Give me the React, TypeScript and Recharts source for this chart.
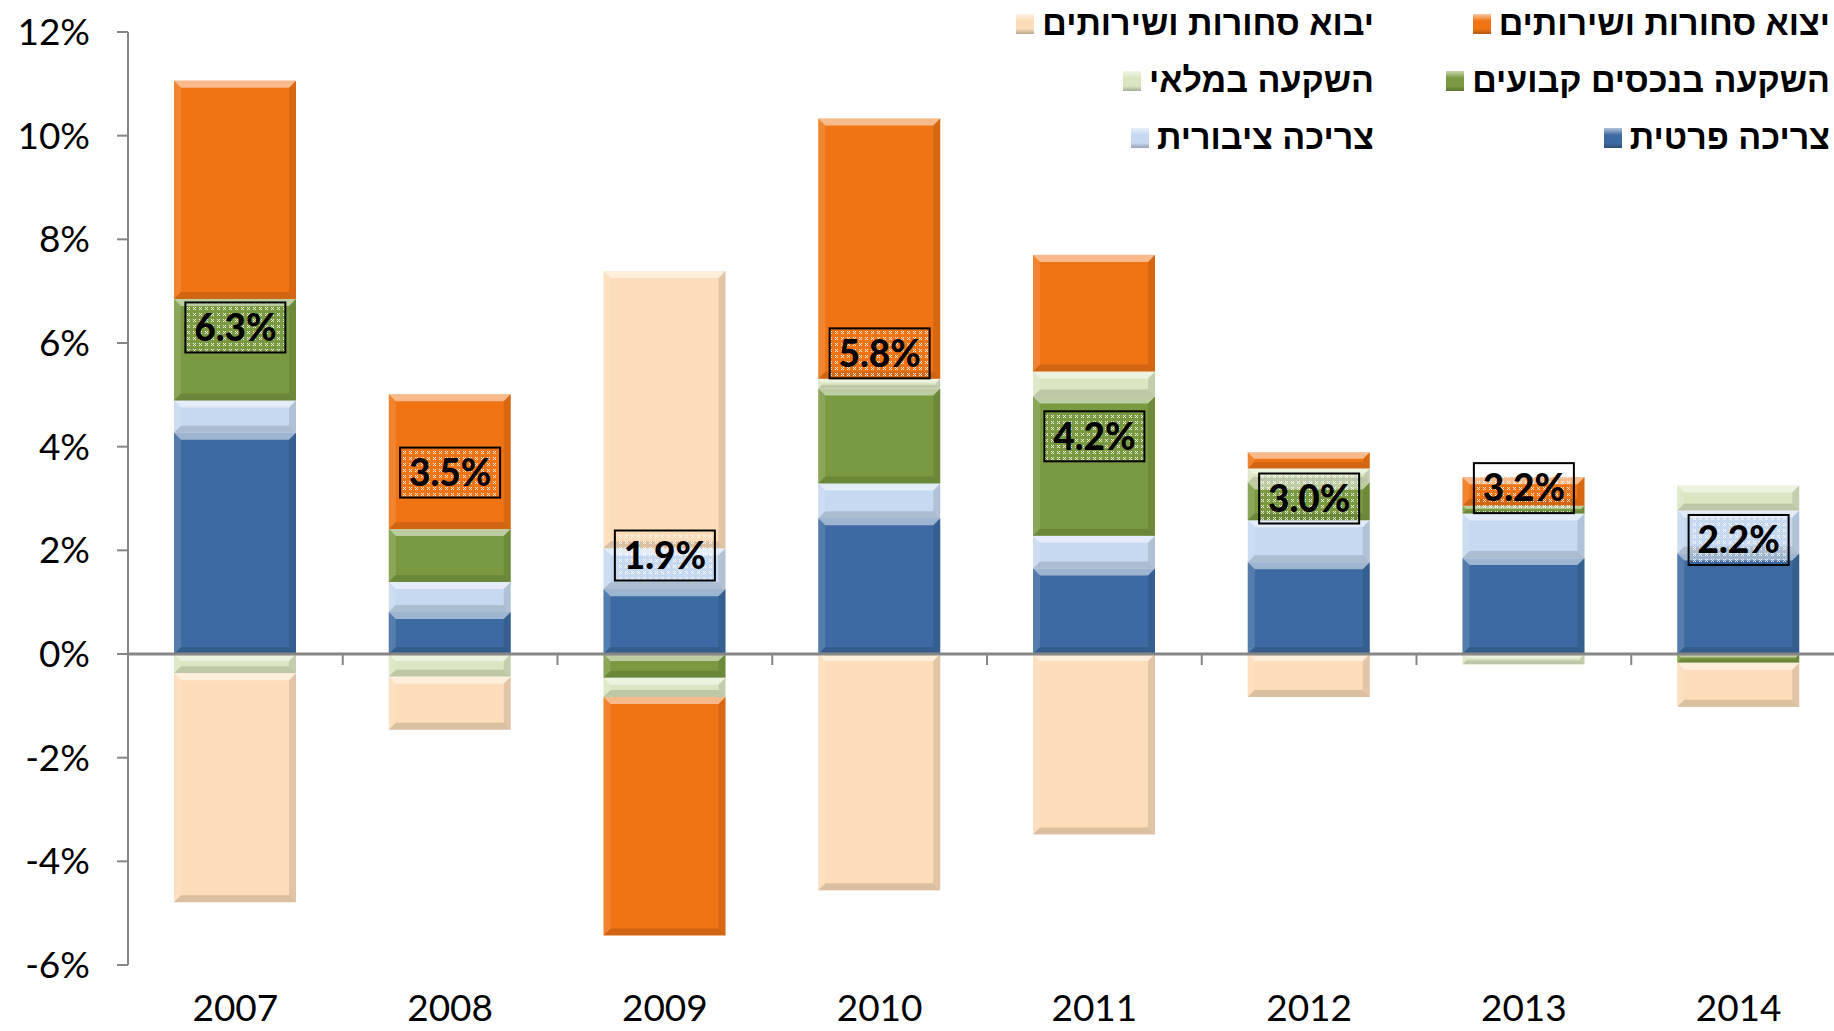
import { Bar, ComposedChart, LabelList, Legend, Line, ReferenceLine, XAxis, YAxis } from 'recharts';

const years = ['2007', '2008', '2009', '2010', '2011', '2012', '2013', '2014'];

// contributions to GDP growth, percentage points
const privateConsumption = [4.27, 0.81, 1.25, 2.62, 1.65, 1.77, 1.85, 1.94];
const publicConsumption = [0.62, 0.58, 0.79, 0.67, 0.63, 0.81, 0.86, 0.83];
const fixedInvestment = [1.96, 1.02, -0.46, 1.83, 2.69, 0.73, 0.15, -0.17];
const inventories = [-0.37, -0.44, -0.37, 0.19, 0.48, 0.27, -0.2, 0.48];
const exportsGs = [4.21, 2.6, -4.6, 5.02, 2.25, 0.31, 0.55, 0];
const importsGs = [-4.42, -1.02, 5.35, -4.56, -3.48, -0.83, 0, -0.85];
const gdpGrowth = [6.3, 3.5, 1.9, 5.8, 4.2, 3.0, 3.2, 2.2];

const yTicks = [-6, -4, -2, 0, 2, 4, 6, 8, 10, 12];

const series = [
  { key: 'privateConsumption', name: 'צריכה פרטית', color: '#3d6aa2', values: privateConsumption },
  { key: 'publicConsumption', name: 'צריכה ציבורית', color: '#c6d9f0', values: publicConsumption },
  { key: 'fixedInvestment', name: 'השקעה בנכסים קבועים', color: '#7a9a42', values: fixedInvestment },
  { key: 'inventories', name: 'השקעה במלאי', color: '#dae6c2', values: inventories },
  { key: 'exportsGs', name: 'יצוא סחורות ושירותים', color: '#f07414', values: exportsGs },
  { key: 'importsGs', name: 'יבוא סחורות ושירותים', color: '#fcdcb9', values: importsGs },
];

// legend reads right-to-left, row by row
const legendOrder = [
  'exportsGs',
  'importsGs',
  'fixedInvestment',
  'inventories',
  'privateConsumption',
  'publicConsumption',
];

const data = years.map((year, i) => {
  const row: Record<string, string | number> = { year, growth: gdpGrowth[i] };
  series.forEach((s) => {
    row[s.key] = s.values[i];
  });
  return row;
});

const CHART_W = 1850;
const CHART_H = 1031;
const MARGIN = { top: 32, right: 4, bottom: 0, left: 0 };
const Y_AXIS_W = 128;
const X_AXIS_H = 66;
const Y_MIN = -6;
const Y_MAX = 12;
const PLOT_H = CHART_H - MARGIN.top - MARGIN.bottom - X_AXIS_H;
const ZERO_Y = MARGIN.top + (PLOT_H * Y_MAX) / (Y_MAX - Y_MIN);
const AXIS_GRAY = '#868686';
const TICK_FONT = 'Lato, "Open Sans", sans-serif';

function BevelBar(props: any) {
  const { x, y, width, height, fill } = props;
  if (!height || !width) return null;
  const top = height < 0 ? y + height : y;
  const h = Math.abs(height);
  const w = width;
  const b = Math.min(7, h / 2.5);
  return (
    <g>
      <rect x={x} y={top} width={w} height={h} fill={fill} />
      <polygon
        points={`${x},${top} ${x + w},${top} ${x + w - b},${top + b} ${x + b},${top + b}`}
        fill="#fff"
        opacity={0.5}
      />
      <polygon
        points={`${x},${top + h} ${x + w},${top + h} ${x + w - b},${top + h - b} ${x + b},${top + h - b}`}
        fill="#000"
        opacity={0.13}
      />
      <polygon
        points={`${x},${top} ${x + b},${top + b} ${x + b},${top + h - b} ${x},${top + h}`}
        fill="#fff"
        opacity={0.12}
      />
      <polygon
        points={`${x + w},${top} ${x + w - b},${top + b} ${x + w - b},${top + h - b} ${x + w},${top + h}`}
        fill="#000"
        opacity={0.1}
      />
    </g>
  );
}

function YearTick(props: any) {
  const { x, y, payload, index } = props;
  const half = payload?.offset ?? 0;
  return (
    <g>
      {index > 0 && (
        <line
          x1={x - half}
          x2={x - half}
          y1={ZERO_Y}
          y2={ZERO_Y + 11}
          stroke={AXIS_GRAY}
          strokeWidth={2}
        />
      )}
      <text
        x={x}
        y={y}
        dy={56}
        textAnchor="middle"
        fontFamily={TICK_FONT}
        fontSize={37}
        fill="#000"
      >
        {payload.value}
      </text>
    </g>
  );
}

function GrowthLabel(props: any) {
  const { x, y, value, index } = props;
  if (value == null) return null;
  const w = 100;
  const h = 50;
  const id = `dots-${index}`;
  return (
    <g>
      <defs>
        <pattern id={id} width={6} height={6} patternUnits="userSpaceOnUse">
          <path d="M1 1 L4 4 M4 1 L1 4" stroke="#fff" strokeWidth={1} opacity={0.85} />
        </pattern>
      </defs>
      <rect
        x={x - w / 2}
        y={y - h / 2}
        width={w}
        height={h}
        fill={`url(#${id})`}
        stroke="#000"
        strokeWidth={2}
      />
      <text
        x={x}
        y={y}
        dy="0.36em"
        textAnchor="middle"
        fontFamily={TICK_FONT}
        fontWeight={900}
        fontSize={37}
        fill="#000"
      >
        {`${Number(value).toFixed(1)}%`}
      </text>
    </g>
  );
}

function LegendContent() {
  return (
    <div
      style={{
        direction: 'rtl',
        display: 'grid',
        gridTemplateColumns: '456px 378px',
        gridAutoRows: '57px',
      }}
    >
      {legendOrder.map((key) => {
        const s = series.find((item) => item.key === key)!;
        return (
          <div
            key={key}
            style={{ display: 'flex', alignItems: 'center', gap: 8, paddingRight: 4 }}
          >
            <span
              style={{
                fontFamily: '"Liberation Sans", "DejaVu Sans", sans-serif',
                fontWeight: 700,
                fontSize: 34,
                color: '#000',
                whiteSpace: 'nowrap',
              }}
            >
              {s.name}
            </span>
            <span
              style={{
                width: 18,
                height: 20,
                background: `linear-gradient(180deg, rgba(255,255,255,0.6), ${s.color} 35%, ${s.color} 75%, rgba(0,0,0,0.25))`,
                backgroundColor: s.color,
              }}
            />
          </div>
        );
      })}
    </div>
  );
}

export default function App() {
  return (
    <div
      style={{
        position: 'absolute',
        left: 0,
        top: 0,
        width: 1834,
        height: 1031,
        overflow: 'hidden',
        background: '#fff',
      }}
    >
      <ComposedChart
        width={CHART_W}
        height={CHART_H}
        data={data}
        margin={MARGIN}
        stackOffset="sign"
        barSize={122}
      >
        <XAxis
          dataKey="year"
          height={X_AXIS_H}
          axisLine={false}
          tickLine={false}
          tickSize={0}
          tickMargin={0}
          tick={<YearTick />}
          interval={0}
        />
        <YAxis
          width={Y_AXIS_W}
          domain={[Y_MIN, Y_MAX]}
          ticks={yTicks}
          allowDataOverflow
          tickFormatter={(v) => `${v}%`}
          axisLine={{ stroke: AXIS_GRAY, strokeWidth: 2 }}
          tickLine={{ stroke: AXIS_GRAY, strokeWidth: 2 }}
          tickSize={11}
          tickMargin={27}
          tick={{ fontFamily: TICK_FONT, fontSize: 37, fill: '#000' }}
        />
        <Legend
          layout="vertical"
          align="center"
          verticalAlign="middle"
          content={<LegendContent />}
          wrapperStyle={{ position: 'absolute', left: 1000, top: -5, width: 834, height: 175 }}
        />
        {series.map((s) => (
          <Bar
            key={s.key}
            dataKey={s.key}
            name={s.name}
            stackId="gdp"
            fill={s.color}
            shape={<BevelBar />}
            isAnimationActive={false}
          />
        ))}
        <ReferenceLine y={0} stroke={AXIS_GRAY} strokeWidth={3} />
        <Line
          dataKey="growth"
          stroke="none"
          dot={false}
          activeDot={false}
          legendType="none"
          isAnimationActive={false}
        >
          <LabelList dataKey="growth" content={<GrowthLabel />} />
        </Line>
      </ComposedChart>
    </div>
  );
}
